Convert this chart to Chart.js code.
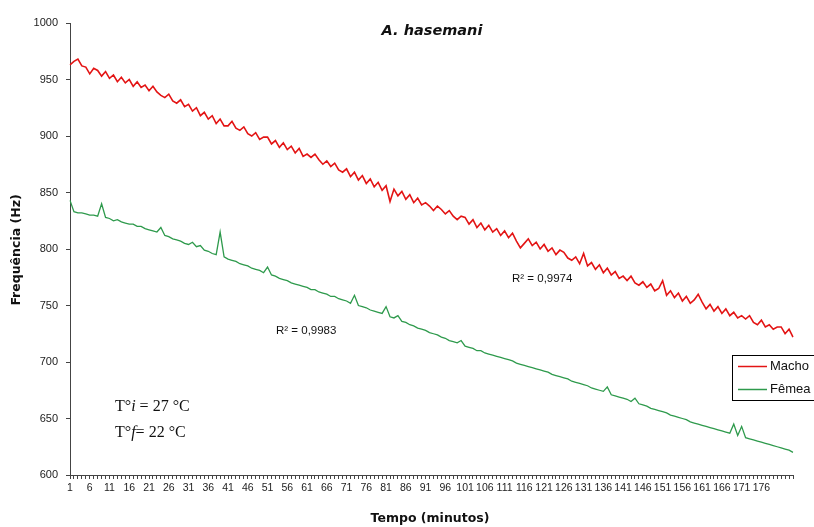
<!DOCTYPE html>
<html>
<head>
<meta charset="utf-8">
<script src="https://cdn.jsdelivr.net/npm/chart.js@4/dist/chart.umd.min.js"></script>
<style>
  html, body { margin: 0; padding: 0; background: #ffffff; }
  #wrap { width: 814px; height: 527px; position: relative; }
</style>
</head>
<body>
<div id="wrap"><canvas id="c" width="814" height="527"></canvas></div>
<script>
// ---- Data ----
const minutes = Array.from({ length: 184 }, (_, i) => i + 1); // category index (minutes)
const tickLabels = [1, 6, 11, 16, 21, 26, 31, 36, 41, 46, 51, 56, 61, 66, 71, 76, 81, 86, 91, 96,
  101, 106, 111, 116, 121, 126, 131, 136, 141, 146, 151, 156, 161, 166, 171, 176];

const macho = [
  963, 966, 968, 962, 961, 955, 960, 958, 953, 957,
  951, 954, 948, 952, 947, 950, 944, 948, 943, 945,
  940, 944, 939, 936, 934, 937, 931, 929, 932, 926,
  928, 922, 925, 918, 921, 915, 918, 911, 915, 909,
  909, 913, 907, 905, 908, 902, 900, 903, 897, 899,
  899, 893, 896, 890, 894, 888, 891, 885, 889, 882,
  884, 881, 884, 879, 875, 878, 873, 876, 870, 868,
  871, 864, 868, 861, 865, 858, 862, 855, 859, 852,
  856, 842, 853, 847, 851, 844, 848, 841, 845, 839,
  841, 838, 834, 838, 835, 831, 834, 829, 826, 829,
  828, 822, 826, 819, 823, 817, 821, 815, 818, 812,
  816, 810, 814, 807, 801, 805, 809, 803, 806, 800,
  804, 798, 801, 795, 799, 797, 792, 790, 793, 787,
  796, 785, 788, 782, 786, 779, 783, 777, 780, 774,
  776, 772, 776, 770, 768, 771, 766, 769, 763, 765,
  772, 759, 763, 757, 761, 754, 758, 752, 755, 760,
  753, 747, 751, 745, 749, 743, 747, 741, 744, 739,
  741, 738, 741, 735, 733, 737, 731, 733, 729, 731,
  731, 725, 729, 722
];

const femea = [
  843, 833, 832, 832, 831, 830, 830, 829, 840, 828,
  827, 825, 826, 824, 823, 822, 822, 820, 820, 818,
  817, 816, 815, 819, 812, 811, 809, 808, 807, 805,
  804, 806, 802, 803, 799, 798, 796, 795, 815, 793,
  791, 790, 789, 787, 786, 785, 783, 782, 781, 779,
  784, 777, 776, 774, 773, 772, 770, 769, 768, 767,
  766, 764, 764, 762, 761, 760, 758, 758, 756, 755,
  754, 752, 759, 750, 749, 748, 746, 745, 744, 743,
  749, 740, 739, 741, 736, 735, 733, 732, 730, 729,
  728, 726, 725, 724, 722, 721, 719, 718, 717, 719,
  714, 713, 712, 710, 710, 708, 707, 706, 705, 704,
  703, 702, 701, 699, 698, 697, 696, 695, 694, 693,
  692, 691, 689, 688, 687, 686, 685, 683, 682, 681,
  680, 679, 677, 676, 675, 674, 678, 671, 670, 669,
  668, 667, 665, 668, 663, 662, 661, 659, 658, 657,
  656, 655, 653, 652, 651, 650, 649, 647, 646, 645,
  644, 643, 642, 641, 640, 639, 638, 637, 645, 635,
  643, 633, 632, 631, 630, 629, 628, 627, 626, 625,
  624, 623, 622, 620
];

const seriesNames = ['Macho', 'Fêmea'];
const r2Labels = ['R² = 0,9974', 'R² = 0,9983'];
const titleText = 'A. hasemani';
const yTitle = 'Frequência (Hz)';
const xTitle = 'Tempo (minutos)';

const RED = '#e31414';
const GREEN = '#2e9a4c';

// ---- Overlay texts: title, axis titles, R², temperatures, legend ----
const overlay = {
  id: 'overlay',
  afterDraw(chart) {
    const ctx = chart.ctx;
    ctx.save();
    ctx.fillStyle = '#111';
    ctx.textBaseline = 'middle';

    // Title
    ctx.font = 'italic bold 14.5px "DejaVu Sans"';
    ctx.textAlign = 'center';
    ctx.fillText(titleText, 432, 31);

    // Axis titles
    ctx.font = 'bold 12.5px "DejaVu Sans"';
    ctx.fillText(xTitle, 430, 519);
    ctx.save();
    ctx.translate(17, 250);
    ctx.rotate(-Math.PI / 2);
    ctx.fillText(yTitle, 0, 0);
    ctx.restore();

    // R² labels
    ctx.font = '11.5px "Liberation Sans"';
    ctx.textAlign = 'left';
    ctx.fillText(r2Labels[0], 512, 279);
    ctx.fillText(r2Labels[1], 276, 331);

    // Temperatures
    function tLine(x, y, sub, rest) {
      ctx.font = '16px "Liberation Serif"';
      ctx.fillText('T°', x, y);
      let w = ctx.measureText('T°').width;
      ctx.font = 'italic 16px "Liberation Serif"';
      ctx.fillText(sub, x + w, y);
      w += ctx.measureText(sub).width;
      ctx.font = '16px "Liberation Serif"';
      ctx.fillText(rest, x + w, y);
    }
    tLine(115, 407, 'i', ' = 27 °C');
    tLine(115, 433, 'f', '= 22 °C');

    // Legend
    ctx.fillStyle = '#ffffff';
    ctx.fillRect(732, 355, 90, 45);
    ctx.strokeStyle = '#000';
    ctx.lineWidth = 1;
    ctx.strokeRect(732.5, 355.5, 90, 45);
    const items = [[seriesNames[0], RED, 366], [seriesNames[1], GREEN, 389]];
    ctx.font = '13px "Liberation Sans"';
    items.forEach(([name, col, y]) => {
      ctx.strokeStyle = col;
      ctx.lineWidth = 1.5;
      ctx.beginPath();
      ctx.moveTo(738, y + 0.5);
      ctx.lineTo(767, y + 0.5);
      ctx.stroke();
      ctx.fillStyle = '#111';
      ctx.fillText(name, 770, y);
    });
    ctx.restore();
  }
};

new Chart(document.getElementById('c'), {
  type: 'line',
  data: {
    labels: minutes,
    datasets: [
      { label: seriesNames[0], data: macho, borderColor: RED, borderWidth: 1.6, pointRadius: 0, tension: 0, fill: false },
      { label: seriesNames[1], data: femea, borderColor: GREEN, borderWidth: 1.3, pointRadius: 0, tension: 0, fill: false }
    ]
  },
  options: {
    responsive: false,
    animation: false,
    devicePixelRatio: 1,
    layout: { padding: { top: 23, right: 21, left: 0, bottom: 0 } },
    plugins: {
      legend: { display: false },
      title: { display: false },
      tooltip: { enabled: false }
    },
    scales: {
      x: {
        type: 'category',
        offset: false,
        border: { display: true, color: '#444', width: 1 },
        grid: { display: true, drawOnChartArea: false, drawTicks: true, tickLength: 4, color: '#444' },
        ticks: {
          autoSkip: false, maxRotation: 0, minRotation: 0, padding: 3,
          color: '#222', font: { family: 'Liberation Sans', size: 10.5 },
          callback: function (v, i) { const l = minutes[i]; return tickLabels.includes(l) ? String(l) : ''; }
        },
        afterFit: s => { s.height = 52; }
      },
      y: {
        min: 600, max: 1000,
        border: { display: true, color: '#444', width: 1 },
        grid: { display: true, drawOnChartArea: false, drawTicks: true, tickLength: 4, color: '#444' },
        ticks: {
          stepSize: 50, padding: 8, color: '#222', font: { family: 'Liberation Sans', size: 11 },
          callback: v => String(v)
        },
        afterFit: s => { s.width = 70; }
      }
    }
  },
  plugins: [overlay]
});
</script>
</body>
</html>
